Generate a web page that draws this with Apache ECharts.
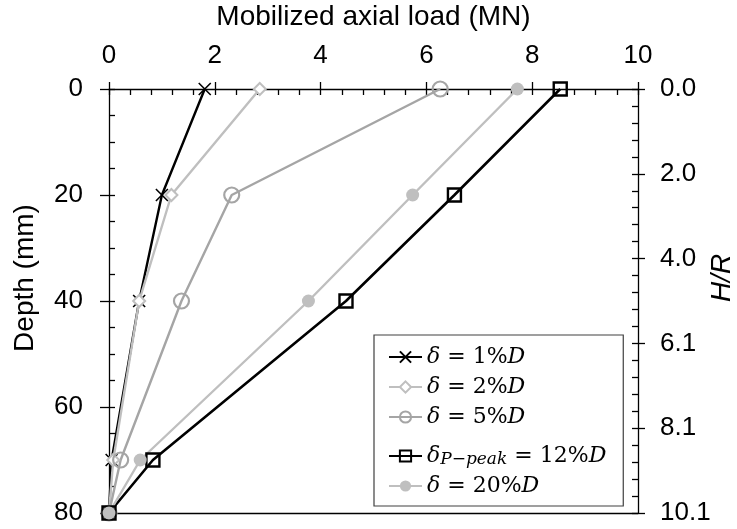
<!DOCTYPE html>
<html>
<head>
<meta charset="utf-8">
<script src="https://cdn.jsdelivr.net/npm/echarts@6/dist/echarts.min.js"></script>
<style>
  html, body { margin: 0; padding: 0; background: #ffffff; }
  #chart { width: 737px; height: 529px; }
</style>
</head>
<body>
<div id="chart"></div>
<script>
// Depth below the top of the pile (mm)
const depths = [0, 20, 40, 70, 80];

// Mobilized axial load (MN) at each depth, per displacement level
const load1  = [1.81, 1.00, 0.57, 0.05, 0];
const load2  = [2.85, 1.18, 0.57, 0.08, 0];
const load5  = [6.26, 2.32, 1.37, 0.22, 0];
const load12 = [8.53, 6.53, 4.48, 0.83, 0];
const load20 = [7.72, 5.74, 3.77, 0.59, 0];

// Secondary (H/R) tick labels, one per 16 mm of depth
const hrLabels = ['0.0', '2.0', '4.0', '6.1', '8.1', '10.1'];

const seriesNames = ['d1', 'd2', 'd5', 'd12', 'd20'];
const legendTexts = [
  '{i|δ} = 1%{i|D}',
  '{i|δ} = 2%{i|D}',
  '{i|δ} = 5%{i|D}',
  '{i|δ}{s|P−peak} = 12%{i|D}',
  '{i|δ} = 20%{i|D}'
];

const BLACK = '#000000';
const LIGHT = '#BFBFBF';
const MID = '#A5A5A5';
const SANS = 'Liberation Sans, Arial, sans-serif';

function pairs(loads) {
  return loads.map((v, i) => [v, depths[i]]);
}

const chart = echarts.init(document.getElementById('chart'), null, { renderer: 'canvas' });

const axisLineStyle = { show: true, onZero: false, lineStyle: { color: BLACK, width: 1.3 } };
const noLine = { show: false, onZero: false };
const tickStyle = { color: BLACK, width: 1.3 };
const labelStyle = { color: BLACK, fontSize: 26, fontFamily: SANS };

const option = {
  backgroundColor: '#ffffff',
  animation: false,
  grid: { left: 109, right: 99, top: 89, bottom: 16, containLabel: false, outerBoundsMode: 'none' },
  xAxis: [
    {
      type: 'value', position: 'top', min: 0, max: 10, interval: 2,
      name: 'Mobilized axial load (MN)', nameLocation: 'middle', nameGap: 58,
      nameMoveOverlap: false,
      nameTextStyle: { color: BLACK, fontSize: 28, fontFamily: SANS },
      axisLine: axisLineStyle,
      axisTick: { show: true, inside: false, length: 7, lineStyle: tickStyle },
      axisLabel: Object.assign({ margin: 20 }, labelStyle),
      splitLine: { show: false }
    },
    {
      type: 'value', position: 'top', min: 0, max: 10, interval: 2,
      axisLine: noLine,
      axisTick: { show: true, inside: true, length: 6, lineStyle: tickStyle },
      minorTick: { show: true, splitNumber: 5, length: 6, lineStyle: tickStyle },
      axisLabel: { show: false },
      splitLine: { show: false }
    },
    {
      type: 'value', position: 'bottom', min: 0, max: 10,
      axisLine: axisLineStyle,
      axisTick: { show: false },
      axisLabel: { show: false },
      splitLine: { show: false }
    }
  ],
  yAxis: [
    {
      type: 'value', position: 'left', inverse: true, min: 0, max: 80, interval: 20,
      name: 'Depth (mm)', nameLocation: 'middle', nameGap: 70, nameRotate: 90,
      nameMoveOverlap: false,
      nameTextStyle: { color: BLACK, fontSize: 28, fontFamily: SANS, padding: [0, 0, 0, 46] },
      axisLine: axisLineStyle,
      axisTick: { show: true, inside: false, length: 9, lineStyle: tickStyle },
      axisLabel: Object.assign({ margin: 26 }, labelStyle),
      splitLine: { show: false }
    },
    {
      type: 'value', position: 'left', inverse: true, min: 0, max: 80, interval: 20,
      axisLine: noLine,
      axisTick: { show: true, inside: true, length: 6, lineStyle: tickStyle },
      minorTick: { show: true, splitNumber: 4, length: 6, lineStyle: tickStyle },
      axisLabel: { show: false },
      splitLine: { show: false }
    },
    {
      type: 'value', position: 'right', inverse: true, min: 0, max: 80, interval: 16,
      name: 'H/R', nameLocation: 'middle', nameGap: 70, nameRotate: 90,
      nameMoveOverlap: false,
      nameTextStyle: { color: BLACK, fontSize: 28, fontFamily: SANS, fontStyle: 'italic', padding: [0, 0, 0, 46] },
      axisLine: axisLineStyle,
      axisTick: { show: true, inside: false, length: 7, lineStyle: tickStyle },
      axisLabel: Object.assign({
        margin: 22,
        formatter: (v) => hrLabels[Math.round(v / 16)]
      }, labelStyle),
      splitLine: { show: false }
    },
    {
      type: 'value', position: 'right', inverse: true, min: 0, max: 80, interval: 16,
      axisLine: noLine,
      axisTick: { show: true, inside: true, length: 6, lineStyle: tickStyle },
      minorTick: { show: true, splitNumber: 5, length: 6, lineStyle: tickStyle },
      axisLabel: { show: false },
      splitLine: { show: false }
    }
  ],
  legend: {
    orient: 'vertical',
    left: 374, top: 335,
    padding: [10, 17, 8, 14],
    itemGap: 6,
    itemWidth: 33, itemHeight: 14,
    backgroundColor: '#ffffff',
    borderColor: '#404040', borderWidth: 1.2,
    borderRadius: 0,
    data: seriesNames,
    formatter: (name) => legendTexts[seriesNames.indexOf(name)],
    textStyle: {
      color: BLACK, fontSize: 22, fontFamily: 'DejaVu Serif, serif',
      lineHeight: 24,
      rich: {
        i: { fontStyle: 'italic', fontSize: 22, fontFamily: 'DejaVu Serif, serif', color: BLACK },
        s: { fontStyle: 'italic', fontSize: 17, fontFamily: 'DejaVu Serif, serif', color: BLACK,
             verticalAlign: 'bottom', lineHeight: 12, padding: [16, 0, 0, 0] }
      }
    }
  },
  series: [
    {
      name: 'd1', type: 'line', data: pairs(load1),
      xAxisIndex: 0, yAxisIndex: 0,
      symbol: 'path://M0,0L10,10M10,0L0,10', symbolSize: 12,
      itemStyle: { color: BLACK, borderColor: BLACK, borderWidth: 1.6 },
      lineStyle: { color: BLACK, width: 2.4 }
    },
    {
      name: 'd2', type: 'line', data: pairs(load2),
      xAxisIndex: 0, yAxisIndex: 0,
      symbol: 'diamond', symbolSize: 12,
      itemStyle: { color: '#ffffff', borderColor: LIGHT, borderWidth: 2 },
      lineStyle: { color: LIGHT, width: 2.4 }
    },
    {
      name: 'd5', type: 'line', data: pairs(load5),
      xAxisIndex: 0, yAxisIndex: 0,
      symbol: 'circle', symbolSize: 15,
      itemStyle: { color: 'rgba(255,255,255,0)', borderColor: MID, borderWidth: 2.2 },
      lineStyle: { color: MID, width: 2.4 }
    },
    {
      name: 'd12', type: 'line', data: pairs(load12),
      xAxisIndex: 0, yAxisIndex: 0,
      symbol: 'rect', symbolSize: 13,
      itemStyle: { color: 'rgba(255,255,255,0)', borderColor: BLACK, borderWidth: 2.4 },
      lineStyle: { color: BLACK, width: 2.6 }
    },
    {
      name: 'd20', type: 'line', data: pairs(load20),
      xAxisIndex: 0, yAxisIndex: 0,
      symbol: 'circle', symbolSize: 13,
      itemStyle: { color: LIGHT, borderColor: LIGHT, borderWidth: 0 },
      lineStyle: { color: LIGHT, width: 2.4 }
    }
  ]
};

chart.setOption(option);
</script>
</body>
</html>
